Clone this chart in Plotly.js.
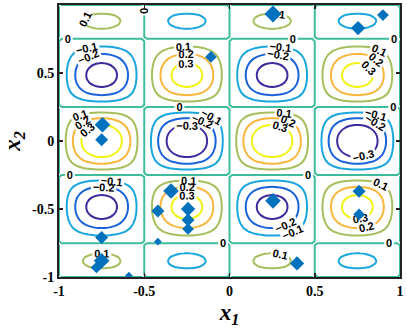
<!DOCTYPE html>
<html><head><meta charset="utf-8">
<script src="https://cdn.plot.ly/plotly-3.0.1.min.js"></script>
<style>html,body{margin:0;padding:0;background:#fff;}#chart{width:407px;height:334px;}</style>
</head><body><div id="chart"></div>
<script>
// sampling lattice for x1 and x2 (half-step offset, slightly beyond the axes)
const gridX1 = [-1.015625,-0.984375,-0.953125,-0.921875,-0.890625,-0.859375,-0.828125,-0.796875,-0.765625,-0.734375,-0.703125,-0.671875,-0.640625,-0.609375,-0.578125,-0.546875,-0.515625,-0.484375,-0.453125,-0.421875,-0.390625,-0.359375,-0.328125,-0.296875,-0.265625,-0.234375,-0.203125,-0.171875,-0.140625,-0.109375,-0.078125,-0.046875,-0.015625,
 0.015625,0.046875,0.078125,0.109375,0.140625,0.171875,0.203125,0.234375,0.265625,0.296875,0.328125,0.359375,0.390625,0.421875,0.453125,0.484375,0.515625,0.546875,0.578125,0.609375,0.640625,0.671875,0.703125,0.734375,0.765625,0.796875,0.828125,0.859375,0.890625,0.921875,0.953125,0.984375,1.015625];
const gridX2 = gridX1.slice();
// profile of the surface along x1
const profileX1 = [-0.098,
 0.098,0.290,0.471,0.634,0.773,0.882,0.957,0.995,0.995,0.957,0.882,0.773,0.634,0.471,0.290,0.098,
 -0.098,-0.290,-0.471,-0.634,-0.773,-0.882,-0.957,-0.995,-0.995,-0.957,-0.882,-0.773,-0.634,-0.471,-0.290,-0.098,
 0.098,0.290,0.471,0.634,0.773,0.882,0.957,0.995,0.995,0.957,0.882,0.773,0.634,0.471,0.290,0.098,
 -0.098,-0.290,-0.471,-0.634,-0.773,-0.882,-0.957,-0.995,-0.995,-0.957,-0.882,-0.773,-0.634,-0.471,-0.290,-0.098,
 0.098];
// profile of the surface along x2 (amplitude included)
const profileX2 = [-0.030,0.030,0.080,0.115,0.130,0.125,0.103,0.066,0.022,-0.027,-0.085,-0.143,-0.200,-0.251,-0.295,-0.328,-0.350,
 -0.357,-0.350,-0.328,-0.292,-0.243,-0.183,-0.114,-0.039,0.039,0.117,0.190,0.258,0.315,0.360,0.392,0.408,
 0.408,0.392,0.360,0.315,0.258,0.190,0.117,0.039,-0.039,-0.114,-0.183,-0.243,-0.292,-0.328,-0.350,-0.357,
 -0.350,-0.328,-0.295,-0.251,-0.200,-0.143,-0.085,-0.027,0.022,0.066,0.103,0.125,0.130,0.115,0.080,0.030,-0.030];
// contour levels and their colours
const levels = [-0.3,-0.2,-0.1,0,0.1,0.2,0.3];
const levelColors = ['#3e2b9c','#1b63d8','#1ba7de','#3dbd9e','#a6bf5c','#f8b63c','#f2f215'];
// sample points (diamonds)
const sampleX1 = [0.255,0.90,0.754,-0.109,-0.745,-0.75,-0.343,-0.42,-0.243,-0.243,-0.243,-0.42,-0.75,-0.75,-0.78,-0.59,0.255,0.76,0.76,0.396];
const sampleX2 = [0.934,0.926,0.83,0.618,0.12,0.01,-0.368,-0.515,-0.5,-0.58,-0.647,-0.74,-0.71,-0.88,-0.93,-0.99,-0.44,-0.37,-0.54,-0.9];
const sampleSize = [13,9,11,9,12,10,12,10,11,10,9,6,10,12,9,6,12,10,9,11];
const xTicks = [-1,-0.5,0,0.5,1];
const yTicks = [-1,-0.5,0,0.5,1];

const z = profileX2.map(py => profileX1.map(px => py * px));

const traces = levels.map((lv, i) => ({
  type:'contour', x:gridX1, y:gridX2, z:z,
  autocontour:false,
  contours:{start:lv, end:lv, size:0.1, coloring:'none', showlabels:true,
    labelformat:'.1~f', labelfont:{family:'Liberation Sans, Arial, sans-serif', size:11, color:'#000', weight:'bold'}},
  showscale:false,
  line:{width:2, color:levelColors[i], smoothing:lv === 0 ? 0 : 1},
  hoverinfo:'skip'
}));
traces.push({
  type:'scatter', mode:'markers', x:sampleX1, y:sampleX2,
  marker:{symbol:'diamond', size:sampleSize, color:'#0072bd', opacity:1, line:{width:0}},
  hoverinfo:'skip'
});
const tickFont = {family:'Liberation Serif, Times New Roman, serif', size:14, color:'#000', weight:700};
const titleFont = {family:'Liberation Serif, Times New Roman, serif', size:23, color:'#000', weight:700, style:'italic'};
const layout = {
  width:407, height:334,
  margin:{l:59, r:7, t:5, b:57, pad:0},
  paper_bgcolor:'#fff', plot_bgcolor:'#fff',
  showlegend:false,
  xaxis:{range:[-1,1], tickvals:xTicks, ticktext:xTicks.map(String), ticks:'inside', ticklen:4, tickwidth:1.5, tickcolor:'#222',
    showline:true, linecolor:'#222', linewidth:2, mirror:'allticks', showgrid:false, zeroline:false,
    tickfont:tickFont,
    title:{text:'x<sub>1</sub>', font:titleFont, standoff:6}},
  yaxis:{range:[-1,1], tickvals:yTicks, ticktext:yTicks.map(String), ticks:'inside', ticklen:4, tickwidth:1.5, tickcolor:'#222',
    showline:true, linecolor:'#222', linewidth:2, mirror:'allticks', showgrid:false, zeroline:false,
    tickfont:tickFont,
    title:{text:'x<sub>2</sub>', font:titleFont, standoff:8}}
};
Plotly.newPlot('chart', traces, layout, {displayModeBar:false, staticPlot:true});
</script></body></html>
